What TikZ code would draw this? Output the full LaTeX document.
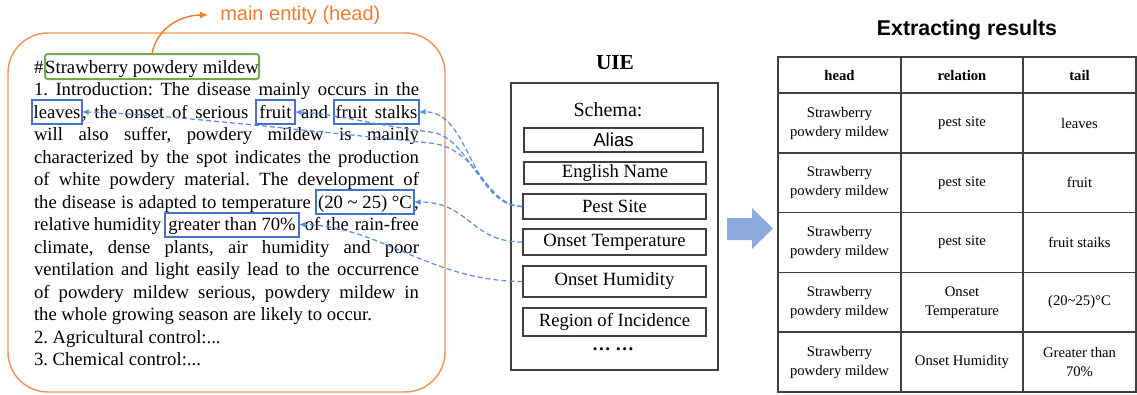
\documentclass[tikz,border=0pt]{standalone}
\usepackage{fontspec}
\setmainfont{Liberation Serif}
\newfontfamily\arialfont{Liberation Sans}
\usepackage{xcolor}
\usetikzlibrary{positioning, arrows.meta}

\definecolor{entorange}{RGB}{237,125,49}
\definecolor{frameorange}{RGB}{242,150,90}
\definecolor{headgreen}{RGB}{112,173,71}
\definecolor{wordblue}{RGB}{68,114,196}
\definecolor{linkblue}{RGB}{91,141,221}
\definecolor{boxgray}{RGB}{64,64,64}
\definecolor{arrowfill}{RGB}{143,170,220}

\frenchspacing

\begin{document}
\begin{tikzpicture}[
    x=0.75pt, y=-0.75pt,
    txt/.style={anchor=base west, inner sep=0pt, outer sep=0pt, font=\fontsize{14}{17}\selectfont},
    wordbox/.style={draw=wordblue, line width=1.5pt, anchor=base west, inner sep=0pt, outer sep=0pt,
      text height=13.5pt, text depth=4.5pt, font=\fontsize{14}{17}\selectfont},
    headbox/.style={draw=headgreen, line width=1.5pt, rounded corners=2pt, anchor=base west, inner sep=0pt, outer sep=0pt,
      text height=14.25pt, text depth=4.5pt, minimum width=160.5pt, font=\fontsize{14}{17}\selectfont},
    frame/.style={draw=frameorange, line width=1.1pt, rounded corners=30pt, minimum width=327.75pt, minimum height=269.25pt},
    slot/.style={draw=boxgray, line width=1.1pt, inner sep=0pt, font=\fontsize{14}{17}\selectfont},
    cell/.style={draw=boxgray, line width=1pt, align=center, inner sep=0pt, font=\fontsize{11}{14.25}\selectfont},
    headcell/.style={cell, minimum height=27pt, font=\fontsize{11}{14.25}\selectfont\bfseries},
    link/.style={draw=linkblue, line width=0.9pt, dash pattern=on 3.75pt off 2.25pt, -{Latex[length=5pt,width=4.5pt]}},
    headarrow/.style={draw=entorange, line width=1.1pt, -{Latex[length=6pt,width=5.5pt]}},
    bigarrow/.style={fill=arrowfill}
  ]
  \fill[white] (0,0) rectangle (1137,394);
  \useasboundingbox (0,0) rectangle (1137,394);

  % document text
  \node[frame] (doc) at (226.5,212.5) {};
  \node[txt] (hash) at (34,73) {\#};
  \node[headbox] (head) at (45,73) {Strawberry powdery mildew};
  \node[anchor=west, inner sep=0pt, inner xsep=9pt, text=entorange, font=\arialfont\fontsize{15}{18}\selectfont] (ent) at (208,15) {main entity (head)};
  \draw[headarrow] (head.north) to[out=80, in=180] (ent.west);

  \foreach \k/\words in {2/{1. Introduction: The disease mainly occurs in the},
      4/{will also suffer, powdery mildew is mainly},
      5/{characterized by the spot indicates the production},
      6/{of white powdery material. The development of},
      9/{climate, dense plants, air humidity and poor},
      10/{ventilation and light easily lead to the occurrence},
      11/{of powdery mildew serious, powdery mildew in}}
    \node[txt] (l\k) at (34,{73+22.5*(\k-1)}) {\makebox[288.75pt][s]{\words}};
  \foreach \k/\words in {12/{the whole growing season are likely to occur.},
      13/{2. Agricultural control:...},
      14/{3. Chemical control:...}}
    \node[txt] (l\k) at (34,{73+22.5*(\k-1)}) {\words};

  % line 3
  \node[wordbox, minimum width=37.5pt] (leaves) at (32,118) {leaves};
  \node[txt] (l3a) at (leaves.base east) {\makebox[130.5pt][s]{, the onset of serious }};
  \node[wordbox, minimum width=29.25pt] (fruit) at (l3a.base east) {fruit};
  \node[txt] (l3b) at (fruit.base east) {\makebox[29.25pt][s]{ and }};
  \node[wordbox, minimum width=63.75pt] (stalks) at (l3b.base east) {\makebox[61.5pt][s]{fruit stalks}};
  % line 7
  \node[txt] (l7a) at (34,208) {\makebox[211.5pt][s]{the disease is adapted to temperature }};
  \node[wordbox, minimum width=73.5pt] (temp) at (l7a.base east) {(20 \textasciitilde{} 25) °C};
  \node[txt] (l7b) at (temp.base east) {,};
  % line 8
  \node[txt] (l8a) at (34,230.5) {\makebox[98.25pt][s]{relative humidity }};
  \node[wordbox, minimum width=100.5pt] (greater) at (l8a.base east) {greater than 70\%};
  \node[txt] (l8b) at (greater.base east) {\makebox[90pt][s]{ of the rain-free}};

  % UIE
  \node[anchor=base, font=\fontsize{16}{19}\selectfont\bfseries] (uietitle) at (615,69) {UIE};
  \node[draw=boxgray, line width=1pt, minimum width=155.25pt, minimum height=215.25pt] (uie) at (614.5,226.5) {};
  \node[anchor=base, font=\fontsize{15}{18}\selectfont] (schema) at (608,116) {Schema:};
  \node[slot, minimum width=134.25pt, minimum height=18pt, font=\arialfont\fontsize{14}{17}\selectfont] (alias) at (613.5,140) {Alias};
  \node[slot, minimum width=136.5pt, minimum height=16.5pt] (ename) at (615,173) {English Name};
  \node[slot, minimum width=137.25pt, minimum height=18.75pt] (pest) at (614.5,206.5) {Pest Site};
  \node[slot, minimum width=137.25pt, minimum height=19.5pt] (otemp) at (614.5,242) {Onset Temperature};
  \node[slot, minimum width=137.25pt, minimum height=23.25pt] (ohum) at (614.5,281.5) {Onset Humidity};
  \node[slot, minimum width=137.25pt, minimum height=21pt] (region) at (614.5,322) {Region of Incidence};
  \node[font=\fontsize{14}{17}\selectfont\bfseries] (more) at (613,349) {… …};

  \draw[link] (pest.west) .. controls (470,206) and (470,111) .. (stalks.east);
  \draw[link] (pest.west) .. controls (480,206) and (470,136) .. (430,132) .. controls (380,126) and (330,113) .. (fruit.east);
  \draw[link] (pest.west) .. controls (485,206) and (480,148) .. (430,143) .. controls (300,130) and (150,113) .. (leaves.east);
  \draw[link] (otemp.west) .. controls (470,242) and (470,202) .. (temp.east);
  \draw[link] (ohum.west) .. controls (430,281) and (380,226) .. (greater.east);

  \fill[bigarrow] (727,218) -- (752,218) -- (752,208) -- (773,228.5) -- (752,249) -- (752,240) -- (727,240) -- cycle;

  % results table
  \node[anchor=base, font=\arialfont\fontsize{16}{19}\selectfont\bfseries] (restitle) at (967,35) {Extracting results};
  \node[headcell, minimum width=92.25pt] (th1) at (839.5,75) {head};
  \node[headcell, minimum width=91.5pt] (th2) at (962,75) {relation};
  \node[headcell, minimum width=84.75pt] (th3) at (1079.5,75) {tail};
  \foreach \i/\rel/\tl in {1/{pest site}/{leaves},
      2/{pest site}/{fruit},
      3/{pest site}/{fruit staiks},
      4/{Onset\\Temperature}/{(20\textasciitilde25)°C},
      5/{Onset Humidity}/{Greater than\\70\%}} {
    \node[cell, minimum width=92.25pt, minimum height=44.8pt] (hd\i) at (839.5,{123+59.75*(\i-1)}) {Strawberry\\powdery mildew};
    \node[cell, minimum width=91.5pt, minimum height=44.8pt] (rl\i) at (962,{123+59.75*(\i-1)}) {\rel};
    \node[cell, minimum width=84.75pt, minimum height=44.8pt] (tl\i) at (1079.5,{123+59.75*(\i-1)}) {\tl};
  }
\end{tikzpicture}
\end{document}
